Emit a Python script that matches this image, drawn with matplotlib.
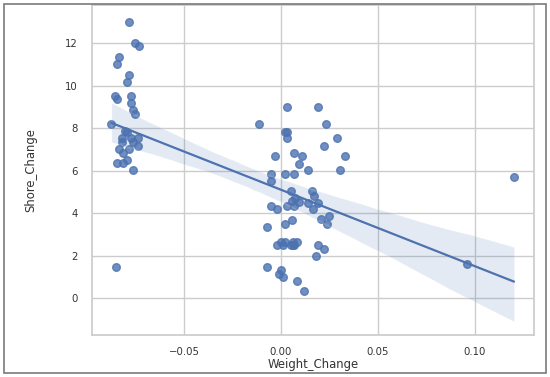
import matplotlib
matplotlib.use("Agg")
import matplotlib.pyplot as plt
import seaborn as sns
import pandas as pd
from matplotlib.patches import Rectangle

# values
weight_left = [-0.0782, -0.0753, -0.0733, -0.0834, -0.0844, -0.0782, -0.0792,
               -0.0854, -0.0844, -0.0775, -0.0775, -0.0764, -0.0753, -0.0874,
               -0.0804, -0.0794, -0.0821, -0.0821, -0.0775, -0.0735, -0.0761,
               -0.0735, -0.0834, -0.0782, -0.0813, -0.0792, -0.0844, -0.0812,
               -0.0764, -0.0852]
shore_left = [13.01, 12.02, 11.86, 11.36, 11.02, 10.52, 10.17,
              9.52, 9.37, 9.51, 9.17, 8.86, 8.66, 8.20,
              7.87, 7.83, 7.54, 7.35, 7.54, 7.54, 7.35,
              7.16, 7.02, 7.02, 6.85, 6.52, 6.37, 6.37,
              6.02, 1.48]

weight_mid = [0.0029, 0.0191, -0.0112, 0.0230, 0.0021, 0.0031, 0.0029, 0.0290,
              0.0220, -0.0032, 0.0069, 0.0108, 0.0330, 0.0091, 0.0138, 0.0306,
              -0.0053, 0.0021, 0.0069, -0.0053, 0.0050, 0.0160, 0.0169,
              0.0057, 0.0072, 0.0093, 0.0069, 0.0029, 0.0138, 0.0191, 0.0167,
              -0.0053, -0.0019, 0.0208, 0.0249, 0.0239, -0.0071, 0.0021, 0.0057,
              -0.0022, -0.0002, 0.0009, 0.0021, 0.0050, 0.0060, 0.0069, 0.0081,
              0.0060, 0.0191, 0.0220, 0.0180, -0.0071, -0.0002, -0.0012, 0.0009,
              0.0081, 0.0120]
shore_mid = [8.98, 8.98, 8.20, 8.19, 7.84, 7.84, 7.53, 7.53,
             7.19, 6.69, 6.86, 6.69, 6.69, 6.34, 6.02, 6.02,
             5.84, 5.84, 5.84, 5.50, 5.03, 5.03, 4.84,
             4.58, 4.73, 4.53, 4.34, 4.34, 4.51, 4.51, 4.19,
             4.35, 4.19, 3.72, 3.86, 3.50, 3.34, 3.50, 3.67,
             2.50, 2.65, 2.50, 2.65, 2.50, 2.65, 2.50, 2.65,
             2.53, 2.50, 2.34, 2.00, 1.50, 1.34, 1.15, 1.00,
             0.83, 0.33]

weight_right = [0.1201, 0.0959]
shore_right = [5.70, 1.60]

df = pd.DataFrame({
    "Weight_Change": weight_left + weight_mid + weight_right,
    "Shore_Change": shore_left + shore_mid + shore_right,
})

sns.set_theme(style="whitegrid")
plt.rcParams['font.family'] = ['DejaVu Sans']

fig = plt.figure(figsize=(5.5, 3.77), dpi=100)
ax = fig.add_axes([92 / 550, 42 / 377, 442 / 550, 330 / 377])

sns.regplot(data=df, x="Weight_Change", y="Shore_Change", ax=ax, seed=3,
            scatter_kws={"s": 30}, line_kws={"linewidth": 1.6})

ax.set_xlim(-0.0974, 0.1304)
ax.set_ylim(-1.72, 13.8)
ax.set_xticks([-0.05, 0.0, 0.05, 0.10])
ax.set_yticks([0, 2, 4, 6, 8, 10, 12])
ax.tick_params(axis='x', labelsize=7.3, pad=2.5, colors='#333333')
ax.tick_params(axis='y', labelsize=7.3, pad=4, colors='#333333')
ax.set_xlabel("Weight_Change", fontsize=8.4, labelpad=1, color='#333333')
ax.set_ylabel("Shore_Change", fontsize=8.4, labelpad=20, color='#333333')
for sp in ax.spines.values():
    sp.set_color('#cccccc')

# screenshot frame around the figure
fig.patches.append(Rectangle((3.5 / 550, 4 / 377), 542 / 550, 369 / 377,
                             transform=fig.transFigure, fill=False,
                             edgecolor='#7a7a7a', linewidth=1.2))

fig.savefig("out.png", dpi=100)
